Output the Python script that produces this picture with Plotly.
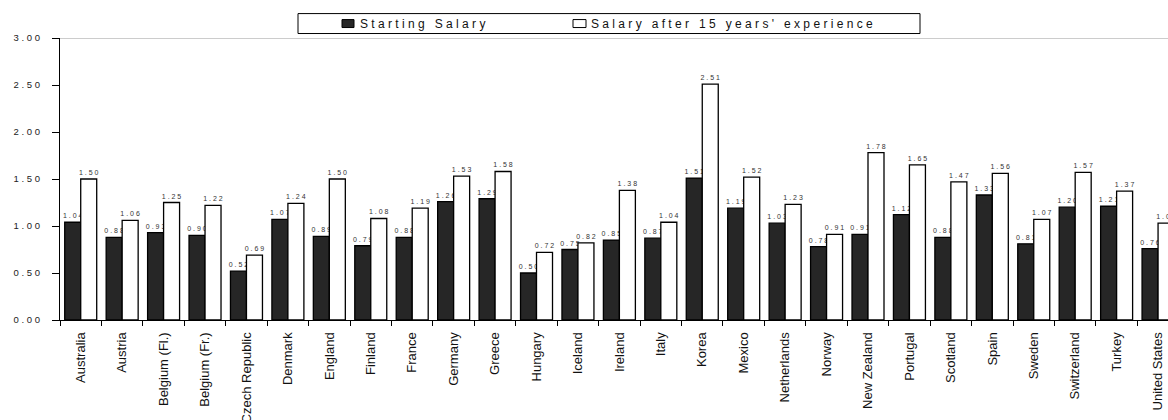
import plotly.graph_objects as go

countries = ["Australia", "Austria", "Belgium (Fl.)", "Belgium (Fr.)", "Czech Republic",
             "Denmark", "England", "Finland", "France", "Germany", "Greece", "Hungary",
             "Iceland", "Ireland", "Italy", "Korea", "Mexico", "Netherlands", "Norway",
             "New Zealand", "Portugal", "Scotland", "Spain", "Sweden", "Switzerland",
             "Turkey", "United States"]
starting_salary = [1.04, 0.88, 0.93, 0.90, 0.52, 1.07, 0.89, 0.79, 0.88, 1.26, 1.29, 0.50,
                   0.75, 0.85, 0.87, 1.51, 1.19, 1.03, 0.78, 0.91, 1.12, 0.88, 1.33, 0.81,
                   1.20, 1.21, 0.76]
salary_15_years = [1.50, 1.06, 1.25, 1.22, 0.69, 1.24, 1.50, 1.08, 1.19, 1.53, 1.58, 0.72,
                   0.82, 1.38, 1.04, 2.51, 1.52, 1.23, 0.91, 1.78, 1.65, 1.47, 1.56, 1.07,
                   1.57, 1.37, 1.03]
series_names = ["Starting Salary", "Salary after 15 years' experience"]
y_ticks = [0.0, 0.5, 1.0, 1.5, 2.0, 2.5, 3.0]

FONT = "Arial, Liberation Sans, sans-serif"
DARK = "#262626"

# page geometry (pixels) used to place the hand-drawn legend
W, H = 1168, 420
M_L, M_R, M_T, M_B = 60, 0, 37.5, 99.5
PLOT_W = W - M_L - M_R
PLOT_H = H - M_T - M_B


def px_x(px):
    return (px - M_L) / PLOT_W


def px_y(py):
    return (H - M_B - py) / PLOT_H


def spaced(s):
    """Spread characters apart to mimic wide letter spacing."""
    return " ".join(list(s))


def spaced_words(s):
    return "   ".join(" ".join(list(w)) for w in s.split(" "))


fig = go.Figure()
fig.add_trace(go.Bar(
    x=countries, y=starting_salary, name=series_names[0],
    marker=dict(color=DARK, line=dict(color="#000000", width=1.3)),
    text=[spaced(f"{v:.2f}") for v in starting_salary],
    textposition="outside", constraintext="none", cliponaxis=False,
    textfont=dict(family=FONT, size=7, color="#333333"),
))
fig.add_trace(go.Bar(
    x=countries, y=salary_15_years, name=series_names[1],
    marker=dict(color="#ffffff", line=dict(color="#000000", width=1.3)),
    text=[spaced(f"{v:.2f}") for v in salary_15_years],
    textposition="outside", constraintext="none", cliponaxis=False,
    textfont=dict(family=FONT, size=7, color="#333333"),
))

# legend box drawn by hand so swatches sit right against the spaced-out labels
shapes = [
    dict(type="line", xref="paper", yref="y", x0=0, x1=1, y0=3, y1=3,
         line=dict(color="#9a9a9a", width=1)),
    dict(type="rect", xref="paper", yref="paper", x0=px_x(298), x1=px_x(920),
         y0=px_y(33), y1=px_y(13), line=dict(color="#000000", width=1),
         fillcolor="white", layer="above"),
    dict(type="rect", xref="paper", yref="paper", x0=px_x(342), x1=px_x(354),
         y0=px_y(27), y1=px_y(19), line=dict(color="#000000", width=1),
         fillcolor=DARK, layer="above"),
    dict(type="rect", xref="paper", yref="paper", x0=px_x(573), x1=px_x(586),
         y0=px_y(27), y1=px_y(19), line=dict(color="#000000", width=1),
         fillcolor="white", layer="above"),
]
annotations = [
    dict(xref="paper", yref="paper", x=px_x(358), y=px_y(23.5), xanchor="left",
         yanchor="middle", showarrow=False, text=spaced_words(series_names[0]),
         font=dict(family=FONT, size=12, color="#111111")),
    dict(xref="paper", yref="paper", x=px_x(589), y=px_y(23.5), xanchor="left",
         yanchor="middle", showarrow=False, text=spaced_words(series_names[1]),
         font=dict(family=FONT, size=12, color="#111111")),
]

fig.update_layout(
    width=W, height=H,
    margin=dict(l=M_L, r=M_R, t=M_T, b=M_B, autoexpand=False),
    paper_bgcolor="white", plot_bgcolor="white",
    barmode="group", bargap=0.228, bargroupgap=0,
    font=dict(family=FONT, color="#111111"),
    showlegend=False,
    shapes=shapes, annotations=annotations,
    xaxis=dict(
        type="category", range=[-0.5, 26.24], automargin=False,
        showline=True, linecolor="#000000", linewidth=1.3,
        ticks="outside", tickson="boundaries", ticklen=5, tickcolor="#000000", tickwidth=1,
        tickangle=-90, tickfont=dict(family=FONT, size=13, color="#111111"),
        ticklabelstandoff=6,
        showgrid=False, zeroline=False,
    ),
    yaxis=dict(
        range=[0, 3], tickvals=y_ticks, ticktext=[spaced(f"{v:.2f}") for v in y_ticks],
        automargin=False,
        showline=True, linecolor="#000000", linewidth=1.3,
        ticks="outside", ticklen=7, tickcolor="#000000", tickwidth=1,
        tickfont=dict(family=FONT, size=9.5, color="#222222"),
        ticklabelstandoff=10,
        showgrid=False, zeroline=False,
    ),
)

fig.write_html("out.html")
